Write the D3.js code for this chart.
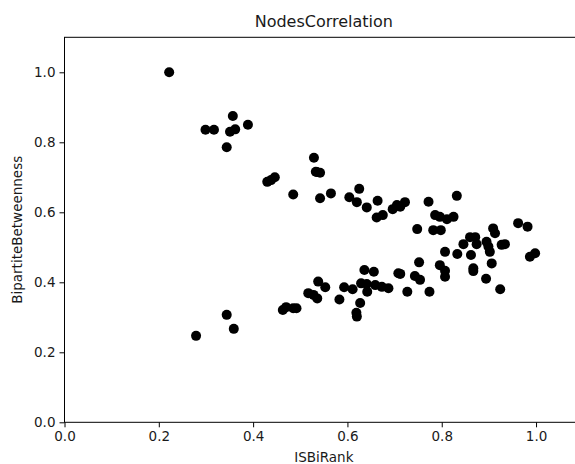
<!DOCTYPE html>
<html>
<head>
<meta charset="utf-8">
<script src="https://cdn.jsdelivr.net/npm/d3@7"></script>
<style>
  body { margin: 0; background: #fff; }
  svg { display: block; font-family: "DejaVu Sans", sans-serif; }
</style>
</head>
<body>
<svg id="chart" width="575" height="464"></svg>
<script>
const title = "NodesCorrelation";
const xLabel = "ISBiRank";
const yLabel = "BipartiteBetweenness";
const xTicks = [0.0, 0.2, 0.4, 0.6, 0.8, 1.0];
const yTicks = [0.0, 0.2, 0.4, 0.6, 0.8, 1.0];
const xDomain = [0, 1.1];
const yDomain = [0, 1.1];

const isBiRank = [
  0.222, 0.299, 0.317, 0.357, 0.351, 0.362, 0.389, 0.344, 0.430, 0.438,
  0.446, 0.485, 0.529, 0.533, 0.542, 0.542, 0.565, 0.604, 0.625, 0.620,
  0.641, 0.664, 0.662, 0.675, 0.696, 0.705, 0.712, 0.722, 0.772, 0.832,
  0.786, 0.796, 0.811, 0.825, 0.748, 0.782, 0.798, 0.962, 0.982, 0.909,
  0.913, 0.846, 0.860, 0.871, 0.874, 0.895, 0.899, 0.902, 0.927, 0.934,
  0.987, 0.998, 0.906, 0.924, 0.894, 0.862, 0.833, 0.807, 0.867, 0.867,
  0.796, 0.807, 0.807, 0.752, 0.743, 0.754, 0.712, 0.727, 0.774, 0.636,
  0.656, 0.629, 0.641, 0.642, 0.659, 0.673, 0.687, 0.593, 0.611, 0.583,
  0.627, 0.619, 0.620, 0.538, 0.553, 0.517, 0.528, 0.536, 0.463, 0.470,
  0.492, 0.279, 0.344, 0.359, 0.708, 0.535, 0.485
];
const bipartiteBetweenness = [
  1.000, 0.836, 0.836, 0.875, 0.830, 0.837, 0.850, 0.786, 0.687, 0.692,
  0.700, 0.651, 0.756, 0.716, 0.713, 0.640, 0.654, 0.643, 0.667, 0.629,
  0.614, 0.633, 0.585, 0.592, 0.609, 0.621, 0.616, 0.629, 0.630, 0.647,
  0.592, 0.587, 0.580, 0.587, 0.552, 0.549, 0.549, 0.569, 0.559, 0.554,
  0.540, 0.509, 0.529, 0.529, 0.509, 0.516, 0.502, 0.487, 0.507, 0.509,
  0.473, 0.483, 0.454, 0.380, 0.410, 0.478, 0.481, 0.487, 0.440, 0.432,
  0.449, 0.433, 0.416, 0.457, 0.418, 0.407, 0.424, 0.373, 0.373, 0.435,
  0.430, 0.397, 0.395, 0.373, 0.392, 0.387, 0.383, 0.386, 0.380, 0.351,
  0.341, 0.313, 0.302, 0.402, 0.386, 0.369, 0.364, 0.354, 0.321, 0.329,
  0.326, 0.247, 0.307, 0.267, 0.426, 0.715, 0.326
];

const data = isBiRank.map((x, i) => ({ x, y: bipartiteBetweenness[i] }));

const svg = d3.select("#chart");
const margin = { left: 64.5, top: 37.3, bottom: 422.3, right: 583.2 };

const x = d3.scaleLinear().domain(xDomain).range([margin.left, margin.right]);
const y = d3.scaleLinear().domain(yDomain).range([margin.bottom, margin.top]);

// points
svg.append("g")
  .selectAll("circle")
  .data(data)
  .join("circle")
  .attr("cx", d => x(d.x))
  .attr("cy", d => y(d.y))
  .attr("r", 5)
  .attr("fill", "#000");

// frame
svg.append("rect")
  .attr("x", margin.left)
  .attr("y", margin.top)
  .attr("width", margin.right - margin.left)
  .attr("height", margin.bottom - margin.top)
  .attr("fill", "none")
  .attr("stroke", "#000")
  .attr("stroke-width", 1);

const fmt = d3.format(".1f");

const xAxis = svg.append("g")
  .attr("transform", `translate(0,${margin.bottom})`)
  .call(d3.axisBottom(x).tickValues(xTicks).tickFormat(fmt).tickSize(5).tickPadding(4));
const yAxis = svg.append("g")
  .attr("transform", `translate(${margin.left},0)`)
  .call(d3.axisLeft(y).tickValues(yTicks).tickFormat(fmt).tickSize(5).tickPadding(4));

[xAxis, yAxis].forEach(g => {
  g.select(".domain").remove();
  g.selectAll(".tick line").attr("stroke", "#000");
  g.selectAll(".tick text")
    .attr("fill", "#1a1a1a")
    .style("font-size", "13.5px")
    .style("font-family", "DejaVu Sans, sans-serif");
});

// title
svg.append("text")
  .attr("x", (margin.left + margin.right) / 2)
  .attr("y", 27)
  .attr("text-anchor", "middle")
  .attr("fill", "#1a1a1a")
  .style("font-size", "16px")
  .text(title);

// x label
svg.append("text")
  .attr("x", (margin.left + margin.right) / 2)
  .attr("y", 462)
  .attr("text-anchor", "middle")
  .attr("fill", "#1a1a1a")
  .style("font-size", "13.5px")
  .text(xLabel);

// y label
svg.append("text")
  .attr("transform", `translate(22,${(margin.top + margin.bottom) / 2}) rotate(-90)`)
  .attr("text-anchor", "middle")
  .attr("fill", "#1a1a1a")
  .style("font-size", "13.5px")
  .text(yLabel);
</script>
</body>
</html>
